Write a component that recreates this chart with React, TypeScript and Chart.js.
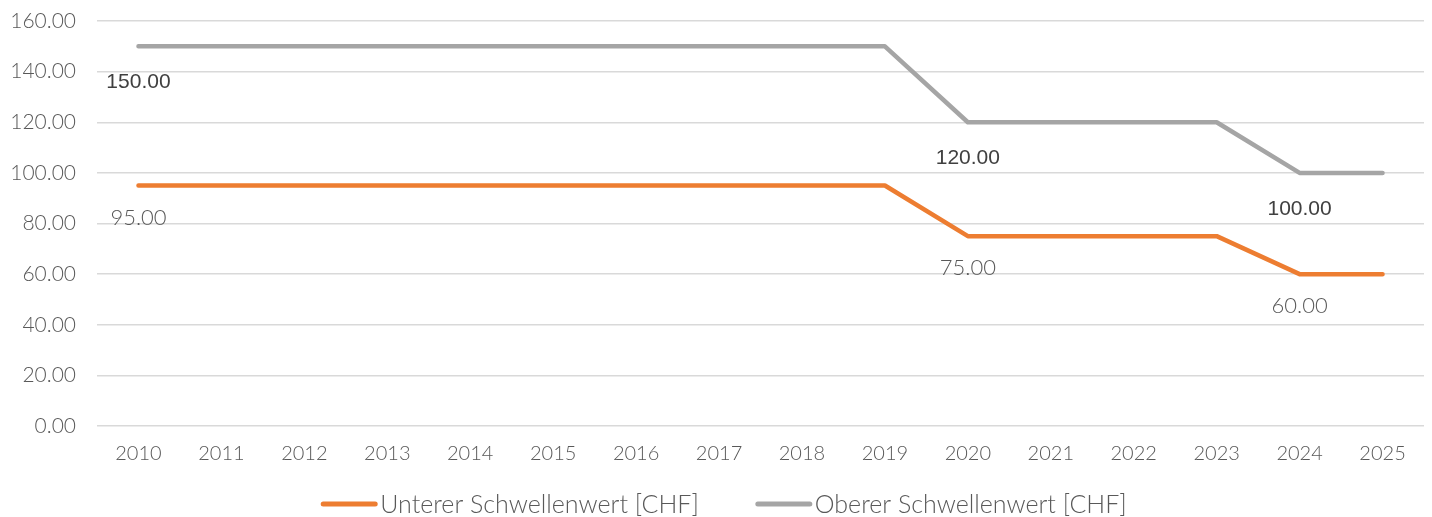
import React, { useEffect, useRef } from "react";
import { Chart, registerables } from "chart.js";

Chart.register(...registerables);

const years = ["2010", "2011", "2012", "2013", "2014", "2015", "2016", "2017", "2018", "2019", "2020", "2021", "2022", "2023", "2024", "2025"];
const lowerValues = [95, 95, 95, 95, 95, 95, 95, 95, 95, 95, 75, 75, 75, 75, 60, 60];
const upperValues = [150, 150, 150, 150, 150, 150, 150, 150, 150, 150, 120, 120, 120, 120, 100, 100];
const seriesNames = ["Unterer Schwellenwert [CHF]", "Oberer Schwellenwert [CHF]"];
const seriesColors = ["#ed7d31", "#a5a5a5"];
const labelIndices = [0, 10, 14];
const yMin = 0;
const yMax = 160;
const yStep = 20;

const THIN_FONT = "Lato";

const dataLabelPlugin = {
  id: "dataLabels",
  afterDatasetsDraw(chart: any) {
    const ctx = chart.ctx;
    ctx.save();
    chart.data.datasets.forEach((ds: any, di: number) => {
      const meta = chart.getDatasetMeta(di);
      labelIndices.forEach((idx) => {
        const pt = meta.data[idx];
        if (!pt) return;
        let off = 33;
        if (di === 1) {
          ctx.font = "normal 21px 'Liberation Sans', sans-serif";
          ctx.fillStyle = "#404040";
          off = 36;
        } else {
          ctx.font = `300 22px ${THIN_FONT}, sans-serif`;
          ctx.fillStyle = "#595959";
          off = 32;
        }
        ctx.textAlign = "center";
        ctx.textBaseline = "middle";
        ctx.fillText(Number(ds.data[idx]).toFixed(2), pt.x, pt.y + off);
      });
    });
    ctx.restore();
  },
};

const legendPlugin = {
  id: "customLegend",
  afterDraw(chart: any) {
    const ctx = chart.ctx;
    ctx.save();
    ctx.font = `300 25px ${THIN_FONT}, sans-serif`;
    const lineW = 56;
    const gap = 3;
    const spacing = 57;
    const widths = chart.data.datasets.map((ds: any) => lineW + gap + ctx.measureText(ds.label).width);
    const total = widths.reduce((a: number, b: number) => a + b, 0) + spacing * (widths.length - 1);
    let x = chart.width / 2 + 8 - total / 2;
    const y = 504;
    chart.data.datasets.forEach((ds: any, i: number) => {
      ctx.strokeStyle = ds.borderColor;
      ctx.lineWidth = 5;
      ctx.lineCap = "round";
      ctx.beginPath();
      ctx.moveTo(x + 2, y);
      ctx.lineTo(x + lineW - 2, y);
      ctx.stroke();
      ctx.fillStyle = "#595959";
      ctx.textAlign = "left";
      ctx.textBaseline = "middle";
      ctx.fillText(ds.label, x + lineW + gap, y + 1);
      x += widths[i] + spacing;
    });
    ctx.restore();
  },
};

export default function App() {
  const canvasRef = useRef<HTMLCanvasElement>(null);

  useEffect(() => {
    if (!canvasRef.current) return;
    const chart = new Chart(canvasRef.current, {
      type: "line",
      data: {
        labels: years,
        datasets: [
          {
            label: seriesNames[0],
            data: lowerValues,
            borderColor: seriesColors[0],
            backgroundColor: seriesColors[0],
            borderWidth: 4.5,
            pointRadius: 0,
            borderCapStyle: "round",
            borderJoinStyle: "round",
            tension: 0,
          },
          {
            label: seriesNames[1],
            data: upperValues,
            borderColor: seriesColors[1],
            backgroundColor: seriesColors[1],
            borderWidth: 4.5,
            pointRadius: 0,
            borderCapStyle: "round",
            borderJoinStyle: "round",
            tension: 0,
          },
        ],
      },
      options: {
        animation: false,
        responsive: true,
        maintainAspectRatio: false,
        layout: { padding: { left: 0, right: 8, top: 21, bottom: 35 } },
        plugins: {
          legend: { display: false },
          tooltip: { enabled: false },
        },
        scales: {
          x: {
            offset: true,
            grid: { display: false, drawTicks: false },
            border: { display: false },
            ticks: {
              color: "#595959",
              font: { family: THIN_FONT, size: 20, weight: "300" as any },
              padding: 16,
              maxRotation: 0,
              autoSkip: false,
            },
          },
          y: {
            min: yMin,
            max: yMax,
            grid: { color: "#d9d9d9", lineWidth: 1.5, drawTicks: false },
            border: { display: false },
            ticks: {
              stepSize: yStep,
              color: "#595959",
              font: { family: THIN_FONT, size: 21, weight: "300" as any },
              padding: 21,
              callback: (v: any) => Number(v).toFixed(2),
            },
            afterFit: (scale: any) => {
              scale.width = 97;
              scale.paddingTop = 10;
              scale.paddingBottom = 10;
            },
          },
        },
      },
      plugins: [dataLabelPlugin, legendPlugin],
    });
    return () => chart.destroy();
  }, []);

  return (
    <div style={{ position: "absolute", left: 0, top: 0, width: 1432, height: 517, background: "#ffffff" }}>
      <canvas ref={canvasRef} />
    </div>
  );
}
